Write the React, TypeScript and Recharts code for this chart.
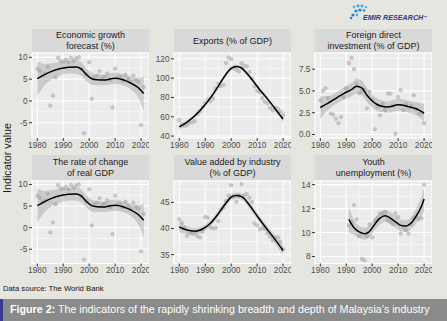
import { ComposedChart, Scatter, Line, Area, XAxis, YAxis, CartesianGrid } from 'recharts';

const FONT = '"Liberation Sans", Arial, Helvetica, sans-serif';

// observed years
const years = [
  1980, 1981, 1982, 1983, 1984, 1985, 1986, 1987, 1988, 1989,
  1990, 1991, 1992, 1993, 1994, 1995, 1996, 1997, 1998, 1999,
  2000, 2001, 2002, 2003, 2004, 2005, 2006, 2007, 2008, 2009,
  2010, 2011, 2012, 2013, 2014, 2015, 2016, 2017, 2018, 2019,
  2020, 2021,
];
const youthYears = [
  1991, 1992, 1993, 1994, 1995, 1996, 1997, 1998, 1999, 2000,
  2001, 2002, 2003, 2004, 2005, 2006, 2007, 2008, 2009, 2010,
  2011, 2012, 2013, 2014, 2015, 2016, 2017, 2018, 2019, 2020,
];

// series values
const gdpGrowth = [
  7.4, 6.9, 5.9, 6.3, 7.8, -1.1, 1.2, 5.4, 9.9, 9.1,
  9.0, 9.5, 8.9, 9.9, 9.2, 9.8, 10.0, 7.3, -7.4, 6.1,
  8.9, 0.5, 5.4, 5.8, 6.8, 5.3, 5.6, 6.3, 4.8, -1.5,
  7.4, 5.3, 5.5, 4.7, 6.0, 5.1, 4.4, 5.8, 4.8, 4.4,
  -5.5, 3.2,
];
const exportsShare = [
  56.7, 51.9, 50.7, 51.1, 53.8, 54.1, 55.5, 62.8, 65.8, 70.0,
  74.5, 78.4, 75.9, 78.9, 89.2, 94.1, 91.6, 93.3, 115.7, 121.3,
  119.8, 110.4, 108.3, 106.9, 115.4, 112.9, 112.2, 106.2, 99.5, 91.4,
  86.9, 85.3, 79.3, 75.6, 73.8, 69.1, 66.6, 69.6, 68.1, 65.3,
  61.5,
];
const fdiShare = [
  3.9, 5.0, 5.3, 4.2, 2.4, 2.3, 1.8, 1.3, 2.0, 4.3,
  5.3, 8.2, 8.8, 7.5, 5.8, 4.7, 5.0, 5.1, 3.0, 4.9,
  4.0, 0.6, 3.2, 2.2, 3.5, 2.8, 4.7, 4.7, 3.3, 0.1,
  4.3, 5.1, 2.8, 3.5, 3.1, 3.3, 4.5, 2.9, 2.4, 2.5,
  1.3,
];
const industryShare = [
  41.8, 41.1, 40.2, 38.6, 39.2, 39.0, 39.0, 38.5, 38.3, 39.4,
  42.2, 42.1, 40.2, 40.0, 40.1, 41.4, 43.6, 44.0, 45.3, 46.3,
  48.3, 46.2, 45.1, 46.3, 48.5, 46.4, 46.6, 45.9, 45.1, 41.0,
  40.6, 39.8, 40.1, 39.9, 39.1, 38.4, 37.7, 38.3, 38.3, 37.5,
  36.0,
];
const youthUnemployment = [
  10.6, 10.9, 12.3, 11.1, 9.7, 7.8, 7.7, 9.7, 10.7, 9.6,
  11.0, 11.2, 11.6, 11.6, 11.7, 11.0, 10.9, 10.7, 11.6, 11.3,
  9.9, 10.5, 10.2, 9.9, 10.7, 11.2, 11.3, 11.1, 11.2, 14.0,
];

// smoothed fits (fit, lower, upper)
const gdpFitYears = [1980, 1983, 1986, 1989, 1992, 1995, 1997, 1999, 2001, 2003, 2006, 2008, 2010, 2013, 2016, 2019, 2021];
const gdpFit = [5.1, 6.1, 6.9, 7.45, 7.75, 7.8, 7.3, 6.0, 5.1, 4.85, 4.8, 5.05, 5.2, 4.85, 4.1, 3.0, 1.7];
const gdpLo = [1.2, 3.7, 5.1, 5.9, 6.3, 6.2, 5.8, 4.6, 3.7, 3.6, 3.6, 3.8, 3.9, 3.6, 2.7, 0.7, -2.3];
const gdpHi = [9.0, 8.5, 8.7, 9.0, 9.2, 9.4, 8.8, 7.4, 6.5, 6.1, 6.0, 6.3, 6.5, 6.1, 5.5, 5.2, 5.6];

const expFitYears = [1980, 1983, 1986, 1989, 1992, 1995, 1998, 2000, 2002, 2004, 2006, 2008, 2011, 2014, 2017, 2020];
const expFit = [49.5, 54.5, 61.0, 69.5, 79.5, 91.5, 104.0, 110.2, 112.0, 110.5, 105.0, 98.5, 88.0, 78.5, 68.0, 57.5];
const expLo = [46.5, 52.3, 59.0, 67.5, 77.5, 89.5, 102.0, 108.2, 110.0, 108.5, 103.0, 96.5, 86.0, 76.5, 65.8, 54.5];
const expHi = [52.5, 56.7, 63.0, 71.5, 81.5, 93.5, 106.0, 112.2, 114.0, 112.5, 107.0, 100.5, 90.0, 80.5, 70.2, 60.5];

const fdiFitYears = [1980, 1983, 1986, 1989, 1992, 1994, 1996, 1998, 2000, 2003, 2006, 2010, 2014, 2017, 2020];
const fdiFit = [3.1, 3.6, 4.15, 4.7, 5.15, 5.55, 5.35, 4.5, 3.85, 3.3, 3.15, 3.4, 3.2, 2.95, 2.45];
const fdiLo = [1.8, 2.8, 3.5, 4.0, 4.4, 4.7, 4.5, 3.7, 3.1, 2.6, 2.5, 2.7, 2.5, 2.2, 1.5];
const fdiHi = [4.4, 4.4, 4.8, 5.4, 5.9, 6.4, 6.2, 5.3, 4.6, 4.0, 3.8, 4.1, 3.9, 3.7, 3.5];

const indFitYears = [1980, 1983, 1986, 1989, 1992, 1995, 1998, 2000, 2002, 2004, 2007, 2010, 2013, 2016, 2020];
const indFit = [40.3, 39.7, 39.5, 39.9, 41.0, 42.8, 44.9, 46.0, 46.3, 46.1, 44.5, 42.4, 40.4, 38.5, 35.8];
const indLo = [39.3, 39.0, 38.9, 39.3, 40.4, 42.2, 44.3, 45.4, 45.7, 45.5, 43.9, 41.8, 39.8, 37.8, 34.8];
const indHi = [41.3, 40.4, 40.1, 40.5, 41.6, 43.4, 45.5, 46.6, 46.9, 46.7, 45.1, 43.0, 41.0, 39.2, 36.8];

const youthFitYears = [1991, 1993, 1995, 1997, 1999, 2001, 2003, 2005, 2007, 2009, 2011, 2013, 2015, 2017, 2019, 2020];
const youthFit = [11.1, 10.4, 10.05, 9.9, 10.1, 10.7, 11.2, 11.4, 11.2, 10.9, 10.6, 10.55, 10.8, 11.4, 12.2, 12.8];
const youthLo = [10.0, 9.8, 9.55, 9.4, 9.6, 10.2, 10.7, 10.9, 10.7, 10.4, 10.1, 10.05, 10.3, 10.8, 11.4, 11.8];
const youthHi = [12.2, 11.0, 10.55, 10.4, 10.6, 11.2, 11.7, 11.9, 11.7, 11.4, 11.1, 11.05, 11.3, 12.0, 13.0, 13.8];

// axis ticks
const xTicks = [1980, 1990, 2000, 2010, 2020];
const xMinor = [1985, 1995, 2005, 2015];
const X_DOMAIN = [1977.95, 2023.05];

const PLOT_W = 117;
const AXIS_W = 28;
const PAD = 6; // room above the plot so the top tick label is not clipped

const panels = [
  { title: ['Economic growth', 'forecast (%)'], left: 32, top: 29, stripH: 24, plotH: 85,
    years, values: gdpGrowth, fitYears: gdpFitYears, fit: gdpFit, lo: gdpLo, hi: gdpHi,
    domain: [-8.5, 11.0], ticks: [-5, 0, 5, 10], minor: [-7.5, -2.5, 2.5, 7.5], digits: 0 },
  { title: ['Exports (% of GDP)'], left: 174, top: 29, stripH: 24, plotH: 85,
    years, values: exportsShare, fitYears: expFitYears, fit: expFit, lo: expLo, hi: expHi,
    domain: [38, 126], ticks: [40, 60, 80, 100, 120], minor: [50, 70, 90, 110], digits: 0 },
  { title: ['Foreign direct', 'investment (% of GDP)'], left: 315, top: 29, stripH: 24, plotH: 85,
    years, values: fdiShare, fitYears: fdiFitYears, fit: fdiFit, lo: fdiLo, hi: fdiHi,
    domain: [-0.4, 9.35], ticks: [0, 2.5, 5, 7.5], minor: [1.25, 3.75, 6.25, 8.75], digits: 1 },
  { title: ['The rate of change', 'of real GDP'], left: 32, top: 155, stripH: 25.5, plotH: 82.5,
    years, values: gdpGrowth, fitYears: gdpFitYears, fit: gdpFit, lo: gdpLo, hi: gdpHi,
    domain: [-8.3, 10.8], ticks: [-5, 0, 5, 10], minor: [-7.5, -2.5, 2.5, 7.5], digits: 0 },
  { title: ['Value added by industry', '(% of GDP)'], left: 174, top: 155, stripH: 25.5, plotH: 82.5,
    years, values: industryShare, fitYears: indFitYears, fit: indFit, lo: indLo, hi: indHi,
    domain: [33.3, 49.1], ticks: [35, 40, 45], minor: [37.5, 42.5, 47.5], digits: 0 },
  { title: ['Youth', 'unemployment (%)'], left: 315, top: 155, stripH: 25.5, plotH: 82.5,
    years: youthYears, values: youthUnemployment, fitYears: youthFitYears, fit: youthFit, lo: youthLo, hi: youthHi,
    domain: [7.42, 14.3], ticks: [8, 10, 12, 14], minor: [9, 11, 13], digits: 0 },
];

const tickStyle = { fontSize: 8.3, fill: '#4d4d4d', fontFamily: FONT };

function Dot(props: any) {
  if (props.cx == null || props.cy == null) return null;
  return <circle cx={props.cx} cy={props.cy} r={1.7} fill="#c4c4c4" fillOpacity={0.85} stroke="#a6a6a6" strokeWidth={0.5} />;
}

function Panel({ p }: { p: any }) {
  const fitRows = p.fitYears.map((y: number, i: number) => ({
    year: y,
    fit: p.fit[i],
    band: [p.lo[i], p.hi[i]],
  }));
  const points = p.years.map((y: number, i: number) => ({ year: y, value: p.values[i] }));
  const rows = p.title.length;

  return (
    <div style={{ position: 'absolute', left: p.left - AXIS_W, top: p.top }}>
      <div
        style={{
          position: 'absolute',
          left: AXIS_W,
          top: 0,
          width: PLOT_W,
          height: p.stripH,
          background: '#d9d9d9',
          color: '#1a1a1a',
          fontSize: 9,
          lineHeight: '11px',
          fontFamily: FONT,
          textAlign: 'center',
          display: 'flex',
          flexDirection: 'column',
          justifyContent: 'center',
          paddingTop: rows === 1 ? 1 : 0,
          boxSizing: 'border-box',
        }}
      >
        {p.title.map((t: string) => (
          <div key={t}>{t}</div>
        ))}
      </div>
      <div style={{ position: 'absolute', left: 0, top: p.stripH - PAD }}>
        <ComposedChart
          width={AXIS_W + PLOT_W}
          height={p.plotH + 16 + PAD}
          data={fitRows}
          margin={{ top: PAD, right: 0, bottom: 0, left: 0 }}
        >
          <XAxis xAxisId="minor" type="number" dataKey="year" domain={X_DOMAIN} ticks={xMinor} allowDataOverflow hide />
          <YAxis yAxisId="minor" type="number" domain={p.domain} ticks={p.minor} allowDataOverflow hide />
          <CartesianGrid xAxisId="minor" yAxisId="minor" fill="#ebebeb" fillOpacity={1} stroke="#ffffff" strokeWidth={0.55} />
          <CartesianGrid stroke="#ffffff" strokeWidth={1.1} />
          <XAxis
            type="number"
            dataKey="year"
            domain={X_DOMAIN}
            ticks={xTicks}
            allowDataOverflow
            axisLine={false}
            tickLine={{ stroke: '#333333' }}
            tickSize={3}
            tickMargin={1}
            height={16}
            tick={tickStyle}
            interval={0}
          />
          <YAxis
            type="number"
            domain={p.domain}
            ticks={p.ticks}
            allowDataOverflow
            axisLine={false}
            tickLine={{ stroke: '#333333' }}
            tickSize={3}
            tickMargin={1.5}
            width={AXIS_W}
            tick={tickStyle}
            interval={0}
            tickFormatter={(v: number) => v.toFixed(p.digits)}
          />
          <Scatter data={points} dataKey="value" shape={Dot} isAnimationActive={false} zIndex={50} />
          <Area dataKey="band" type="monotone" fill="#999999" fillOpacity={0.4} stroke="none" isAnimationActive={false} />
          <Line dataKey="fit" type="monotone" stroke="#000000" strokeWidth={1.5} dot={false} activeDot={false} isAnimationActive={false} />
        </ComposedChart>
      </div>
    </div>
  );
}

function Logo() {
  return (
    <div style={{ position: 'absolute', left: 348, top: 3, width: 95, height: 20 }}>
      <svg width={26} height={18} style={{ position: 'absolute', left: 0, top: 0 }}>
        <circle cx={6} cy={4} r={1.4} fill="#5fb3e8" />
        <circle cx={10} cy={3} r={1.4} fill="#3a9ee0" />
        <circle cx={14} cy={3} r={1.4} fill="#3a9ee0" />
        <circle cx={18} cy={4} r={1.2} fill="#5fb3e8" />
        <circle cx={8} cy={8} r={1.6} fill="#1d7fd0" />
        <circle cx={12} cy={7} r={1.6} fill="#1d7fd0" />
        <circle cx={16} cy={7.5} r={1.4} fill="#3a9ee0" />
        <circle cx={5} cy={12} r={1.6} fill="#1d7fd0" />
        <circle cx={9} cy={12} r={1.2} fill="#3a9ee0" />
        <circle cx={3} cy={15} r={1.2} fill="#1d7fd0" />
      </svg>
      <div
        style={{
          position: 'absolute',
          left: 15,
          top: 11,
          fontFamily: FONT,
          fontWeight: 700,
          fontStyle: 'italic',
          fontSize: 7.2,
          color: '#2b3990',
          whiteSpace: 'nowrap',
          lineHeight: '8px',
        }}
      >
        EMIR RESEARCH<span style={{ fontSize: 4, verticalAlign: 'top', fontStyle: 'normal' }}>™</span>
      </div>
    </div>
  );
}

export default function App() {
  return (
    <div
      style={{
        position: 'absolute',
        left: 0,
        top: 0,
        width: 447,
        height: 321,
        background: '#e6e6e1',
        overflow: 'hidden',
        fontFamily: FONT,
      }}
    >
      <Logo />
      <div
        style={{
          position: 'absolute',
          left: 6.5,
          top: 158,
          transform: 'translate(-50%, -50%) rotate(-90deg)',
          fontSize: 10.8,
          color: '#1a1a1a',
          whiteSpace: 'nowrap',
        }}
      >
        Indicator value
      </div>
      {panels.map((p) => (
        <Panel key={p.title.join(' ')} p={p} />
      ))}
      <div style={{ position: 'absolute', left: 3, top: 284, fontSize: 7.7, color: '#111111', whiteSpace: 'nowrap' }}>
        Data source: The World Bank
      </div>
      <div style={{ position: 'absolute', left: 0, top: 299, width: 447, height: 22, background: '#8a8a8a' }}>
        <div style={{ position: 'absolute', left: 0, top: 0, width: 3, height: 22, background: '#3b3a8f' }} />
        <div
          style={{
            position: 'absolute',
            left: 10,
            top: 4,
            fontSize: 10.7,
            color: '#ffffff',
            whiteSpace: 'nowrap',
          }}
        >
          <b>Figure 2:</b> The indicators of the rapidly shrinking breadth and depth of Malaysia’s industry
        </div>
      </div>
    </div>
  );
}
